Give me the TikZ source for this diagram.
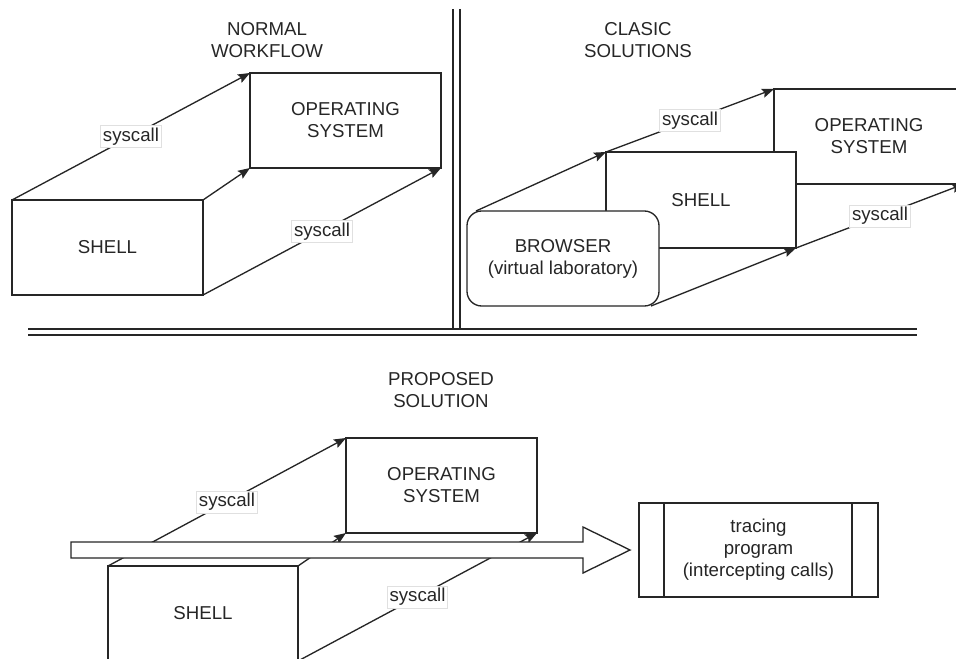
\documentclass[tikz,border=0pt]{standalone}
\usepackage{fontspec}
\setmainfont{Liberation Sans}
\usetikzlibrary{arrows.meta}
\begin{document}
\begin{tikzpicture}[x=0.75pt,y=-0.75pt,
  every node/.style={text=black!85, font=\fontsize{14}{16.5}\selectfont},
  title/.style={align=center},
  blk/.style 2 args={draw=black!85, line width=1pt, fill=white, inner sep=0pt,
    outer sep=0pt, anchor=north west, align=center,
    minimum width=#1*0.75pt, minimum height=#2*0.75pt},
  edge/.style={draw=black!85, line width=1pt},
  conn/.style={edge, -{Stealth[length=9pt,width=7pt,inset=1.5pt]}},
  lbl/.style={fill=white, draw=black!12, line width=0.6pt, inner sep=1.7pt},
  sep/.style={draw=black!85, line width=1.1pt}
]
\useasboundingbox (0,0) rectangle (956,659);
\clip (0,0) rectangle (956,659);

% separators between the three panels
\draw[sep] (453,9) -- (453,329);
\draw[sep] (460,9) -- (460,329);
\draw[sep] (28,329) -- (917,329);
\draw[sep] (28,335) -- (917,335);

% ---- normal workflow ----
\node[title] (t1) at (267,40) {NORMAL\\WORKFLOW};
\node[blk={191}{95}] (sh1) at (12,200) {SHELL};
\node[blk={191}{95}] (os1) at (250,73) {OPERATING\\SYSTEM};
\draw[conn] (sh1.north west) -- node[lbl]{syscall} (os1.north west);
\draw[conn] (sh1.north east) -- (os1.south west);
\draw[conn] (sh1.south east) -- node[lbl]{syscall} (os1.south east);

% ---- classic solutions ----
\node[title] (t2) at (638,40) {CLASIC\\SOLUTIONS};
\node[blk={190}{95}] (os2) at (774,89) {OPERATING\\SYSTEM};
\node[blk={190}{96}] (sh2) at (606,152) {SHELL};
\node[blk={192}{95}, rounded corners=11pt] (br) at (467,211) {BROWSER\\(virtual laboratory)};
\draw[conn] ([shift={(9,0)}]br.north west) -- (sh2.north west);
\draw[conn] (sh2.north west) -- node[lbl]{syscall} (os2.north west);
\draw[conn] ([shift={(-8,0)}]br.south east) -- (sh2.south east);
\draw[conn] (sh2.south east) -- node[lbl]{syscall} (os2.south east);

% ---- proposed solution ----
\node[title] (t3) at (441,390) {PROPOSED\\SOLUTION};
\node[blk={191}{95}] (os3) at (346,438) {OPERATING\\SYSTEM};
\node[blk={190}{95}] (sh3) at (108,566) {SHELL};
\draw[conn] (sh3.north west) -- node[lbl]{syscall} (os3.north west);
\draw[conn] (sh3.north east) -- (os3.south west);
\draw[conn] (sh3.south east) -- node[lbl]{syscall} (os3.south east);

% interception flow arrow laid over the calls
\coordinate (flowtip) at (630,550);
\draw[edge, fill=white] (71,542) -- (583,542) -- (583,527) -- (flowtip)
  -- (583,573) -- (583,558) -- (71,558) -- cycle;

% tracing program (process box)
\node[blk={239}{94}] (tp) at (639,503) {tracing\\program\\(intercepting calls)};
\draw[edge] ([shift={(25,0)}]tp.north west) -- ([shift={(25,0)}]tp.south west);
\draw[edge] ([shift={(-26,0)}]tp.north east) -- ([shift={(-26,0)}]tp.south east);
\end{tikzpicture}
\end{document}
